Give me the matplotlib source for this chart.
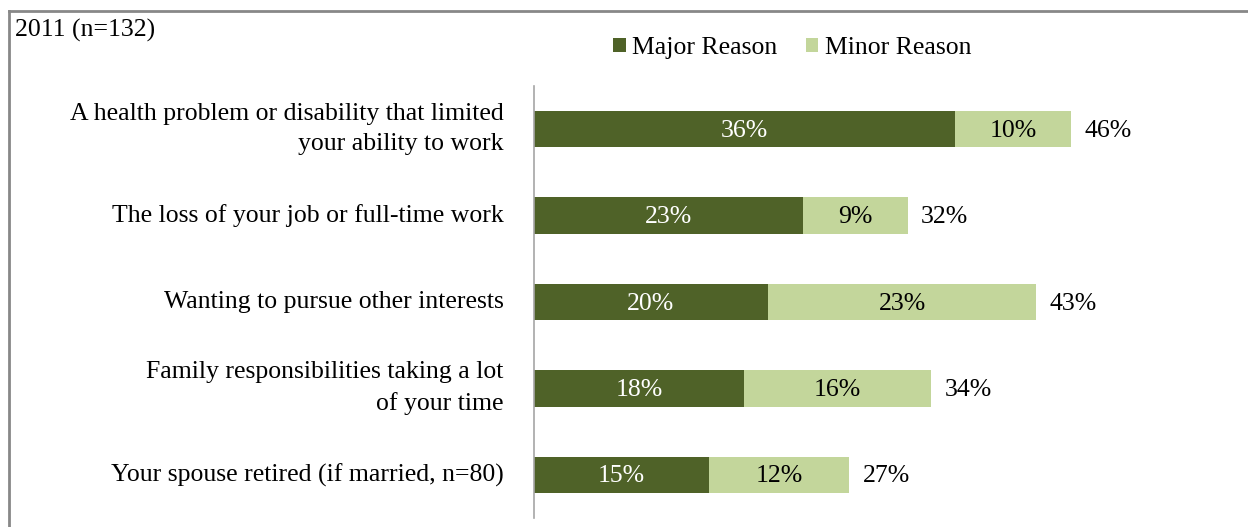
import matplotlib
matplotlib.use("Agg")
import matplotlib.pyplot as plt
from matplotlib.patches import Patch
from matplotlib.lines import Line2D

categories = [
    "A health problem or disability that limited\nyour ability to work",
    "The loss of your job or full-time work",
    "Wanting to pursue other interests",
    "Family responsibilities taking a lot\nof your time",
    "Your spouse retired (if married, n=80)",
]
major = [36, 23, 20, 18, 15]
minor = [10, 9, 23, 16, 12]
totals = [46, 32, 43, 34, 27]
series_names = ["Major Reason", "Minor Reason"]
title = "2011 (n=132)"

DARK = "#4F6228"
LIGHT = "#C3D69B"
plt.rcParams['font.family'] = ['Liberation Serif', 'DejaVu Serif']

fig = plt.figure(figsize=(12.48, 5.27), dpi=100)
ax = fig.add_axes([534/1248, 1-518/527, (1235-534)/1248, (518-86)/527])

y = list(range(len(categories)))
h = 0.42
ax.barh(y, major, height=h, color=DARK, label=series_names[0])
ax.barh(y, minor, left=major, height=h, color=LIGHT, label=series_names[1])
fs = 18.5
for i in y:
    ax.annotate(f"{major[i]}%", (major[i]/2, i), xytext=(0, -1.2), textcoords="offset points",
                ha="center", va="center", color="white", fontsize=fs)
    ax.annotate(f"{minor[i]}%", (major[i] + minor[i]/2, i), xytext=(0, -1.2), textcoords="offset points",
                ha="center", va="center", color="black", fontsize=fs)
    ax.annotate(f"{totals[i]}%", (major[i] + minor[i], i), xytext=(9.5, -1.2), textcoords="offset points",
                ha="left", va="center", color="black", fontsize=fs)

ax.set_xlim(0, 60)
ax.set_ylim(len(categories) - 0.5, -0.5)
ax.set_yticks(y)
ax.set_yticklabels(categories, fontsize=fs, ha="right", va="center", linespacing=1.5)
ax.tick_params(axis="y", length=0, pad=22)
ax.set_xticks([])
for s in ["top", "right", "bottom"]:
    ax.spines[s].set_visible(False)
ax.spines["left"].set_color("#A6A6A6")
ax.spines["left"].set_linewidth(1.2)

handles = [Patch(facecolor=DARK, edgecolor="none"), Patch(facecolor=LIGHT, edgecolor="none")]
fig.legend(handles, series_names, loc="center", bbox_to_anchor=(792/1248, 1-48/527), ncol=2,
           frameon=False, fontsize=fs, handlelength=0.5, handleheight=0.5, handletextpad=0.25,
           columnspacing=1.1)

fig.text(15/1248, 1-30/527, title, ha="left", va="center", fontsize=fs)

# outer border (cropped on right and bottom)
fig.add_artist(Line2D([9/1248, 1.0], [1-11/527, 1-11/527], transform=fig.transFigure, color="#888888", lw=2))
fig.add_artist(Line2D([9/1248, 9/1248], [0.0, 1-11/527], transform=fig.transFigure, color="#888888", lw=2))

fig.savefig("out.png", dpi=100)
